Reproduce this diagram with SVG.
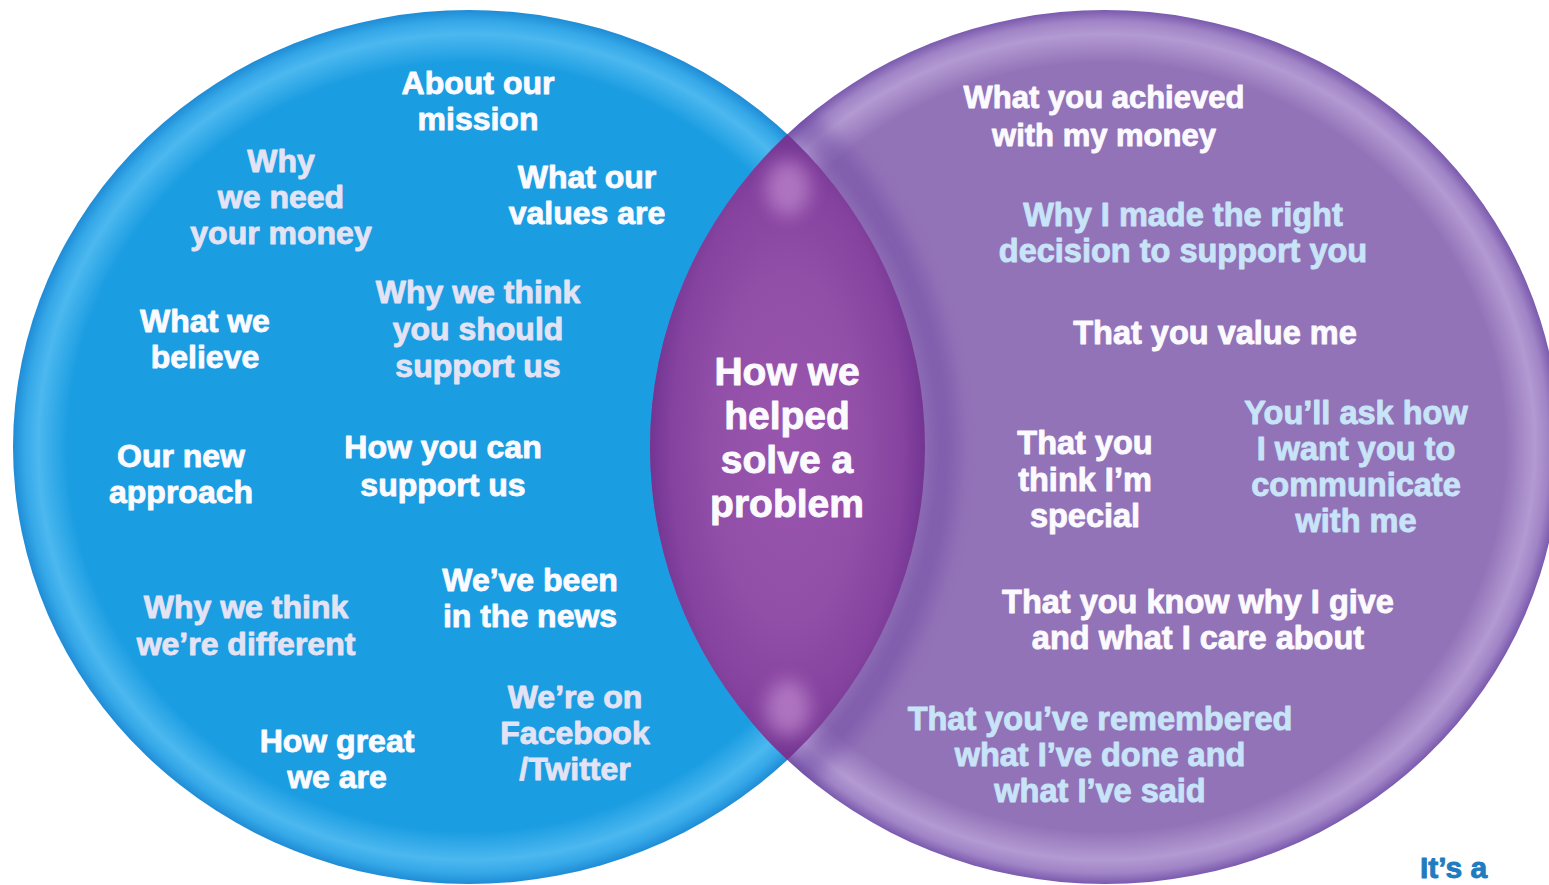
<svg xmlns="http://www.w3.org/2000/svg" width="1549" height="885" viewBox="0 0 1549 885">
  <defs>
    <!-- balloon-like shading for the two sets -->
    <radialGradient id="blueFill" cx="0.5" cy="0.5" r="0.5">
      <stop offset="0" stop-color="#1b9de2"/>
      <stop offset="0.88" stop-color="#1b9de2"/>
      <stop offset="0.945" stop-color="#4cb8ef"/>
      <stop offset="0.975" stop-color="#35a8e8"/>
      <stop offset="1" stop-color="#1f8cd6"/>
    </radialGradient>
    <radialGradient id="purpleFill" cx="0.5" cy="0.5" r="0.5">
      <stop offset="0" stop-color="#9373b8"/>
      <stop offset="0.88" stop-color="#9373b8"/>
      <stop offset="0.945" stop-color="#b39ad2"/>
      <stop offset="0.975" stop-color="#a084c6"/>
      <stop offset="1" stop-color="#7a5aae"/>
    </radialGradient>
    <radialGradient id="lensFill" cx="0.5" cy="0.5" r="0.5">
      <stop offset="0" stop-color="#9a56ae"/>
      <stop offset="0.55" stop-color="#924fa8"/>
      <stop offset="0.85" stop-color="#85429f"/>
      <stop offset="1" stop-color="#733592"/>
    </radialGradient>
    <clipPath id="clipLeft">
      <ellipse cx="469" cy="447" rx="456" ry="437"/>
    </clipPath>
    <clipPath id="clipRight">
      <ellipse cx="1105" cy="447" rx="455" ry="437"/>
    </clipPath>
    <filter id="soft" x="-50%" y="-50%" width="200%" height="200%">
      <feGaussianBlur stdDeviation="9"/>
    </filter>
    <style>
      text { font-family: "Liberation Sans", Arial, Helvetica, sans-serif; font-weight: bold; text-anchor: middle; stroke-width: 0.9px; stroke-linejoin: round; }
      .l { font-size: 32px; }
      .r { font-size: 32.5px; }
      .c { font-size: 39px; }
      .w { fill: #fbfaff; stroke: #fbfaff; }
      .lv { fill: #e4e3f5; stroke: #e4e3f5; }
      .lb { fill: #c8e4f8; stroke: #c8e4f8; }
      .tag { fill: #1f7cc0; stroke: #1f7cc0; font-size: 30px; text-anchor: start; }
    </style>
  </defs>

  <rect width="1549" height="885" fill="#ffffff"/>

  <!-- the two sets -->
  <g id="set-left">
    <ellipse cx="469" cy="447" rx="456" ry="437" fill="url(#blueFill)"/>
  </g>
  <g id="set-right">
    <ellipse cx="1105" cy="447" rx="455" ry="437" fill="url(#purpleFill)"/>
    <!-- shade cast by the blue set onto the purple one -->
    <g clip-path="url(#clipRight)">
      <ellipse cx="469" cy="447" rx="474" ry="455" fill="none" stroke="#6a44a0" stroke-width="30" opacity="0.45" filter="url(#soft)"/>
    </g>
  </g>

  <!-- overlap: both ellipses clipped to each other -->
  <g id="overlap">
    <g clip-path="url(#clipLeft)">
      <g clip-path="url(#clipRight)">
        <rect x="650" y="133" width="275" height="629" fill="url(#lensFill)"/>
        <ellipse cx="788" cy="188" rx="22" ry="28" fill="#c48fd2" opacity="0.65" filter="url(#soft)"/>
        <ellipse cx="788" cy="708" rx="22" ry="28" fill="#c48fd2" opacity="0.65" filter="url(#soft)"/>
      </g>
    </g>
  </g>

  <!-- labels of the blue set -->
  <g id="n-mission"><text class="l w" x="478" y="94">About our</text><text class="l w" x="478" y="130">mission</text></g>
  <g id="n-need-money"><text class="l lv" x="281" y="172">Why</text><text class="l lv" x="281" y="208">we need</text><text class="l lv" x="281" y="244">your money</text></g>
  <g id="n-values"><text class="l w" x="587" y="188">What our</text><text class="l w" x="587" y="224">values are</text></g>
  <g id="n-why-support"><text class="l lv" x="478" y="303">Why we think</text><text class="l lv" x="478" y="340">you should</text><text class="l lv" x="478" y="377">support us</text></g>
  <g id="n-believe"><text class="l w" x="205" y="332">What we</text><text class="l w" x="205" y="368">believe</text></g>
  <g id="n-approach"><text class="l w" x="181" y="467">Our new</text><text class="l w" x="181" y="503">approach</text></g>
  <g id="n-how-support"><text class="l w" x="443" y="458">How you can</text><text class="l w" x="443" y="496">support us</text></g>
  <g id="n-news"><text class="l w" x="530" y="591">We’ve been</text><text class="l w" x="530" y="627">in the news</text></g>
  <g id="n-different"><text class="l lv" x="246" y="618">Why we think</text><text class="l lv" x="246" y="655">we’re different</text></g>
  <g id="n-social"><text class="l lv" x="575" y="708">We’re on</text><text class="l lv" x="575" y="744">Facebook</text><text class="l lv" x="575" y="780">/Twitter</text></g>
  <g id="n-great"><text class="l w" x="337" y="752">How great</text><text class="l w" x="337" y="788">we are</text></g>

  <!-- label of the overlap -->
  <g id="n-solve"><text class="c w" x="787" y="385">How we</text><text class="c w" x="787" y="429">helped</text><text class="c w" x="787" y="473">solve a</text><text class="c w" x="787" y="517">problem</text></g>

  <!-- labels of the purple set -->
  <g id="n-achieved"><text class="r w" x="1104" y="108" style="font-size:31px">What you achieved</text><text class="r w" x="1104" y="146" style="font-size:31px">with my money</text></g>
  <g id="n-decision"><text class="r lb" x="1183" y="226">Why I made the right</text><text class="r lb" x="1183" y="262">decision to support you</text></g>
  <g id="n-value"><text class="r w" x="1215" y="344">That you value me</text></g>
  <g id="n-special"><text class="r w" x="1085" y="454">That you</text><text class="r w" x="1085" y="491">think I’m</text><text class="r w" x="1085" y="527">special</text></g>
  <g id="n-ask"><text class="r lb" x="1356" y="424">You’ll ask how</text><text class="r lb" x="1356" y="460">I want you to</text><text class="r lb" x="1356" y="496">communicate</text><text class="r lb" x="1356" y="532">with me</text></g>
  <g id="n-why-give"><text class="r w" x="1198" y="613">That you know why I give</text><text class="r w" x="1198" y="649">and what I care about</text></g>
  <g id="n-remembered"><text class="r lb" x="1100" y="730">That you’ve remembered</text><text class="r lb" x="1100" y="766">what I’ve done and</text><text class="r lb" x="1100" y="802">what I’ve said</text></g>

  <text class="tag" x="1420" y="878">It’s a</text>
</svg>
